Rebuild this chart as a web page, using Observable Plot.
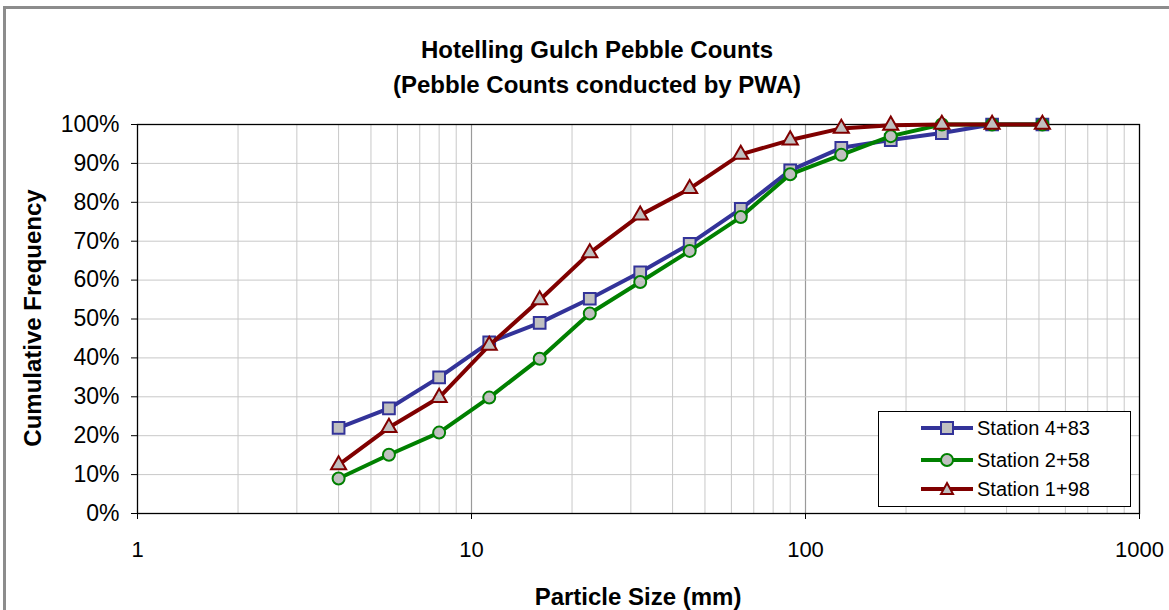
<!DOCTYPE html>
<html>
<head>
<meta charset="utf-8">
<script src="https://cdn.jsdelivr.net/npm/d3@7"></script>
<script src="https://cdn.jsdelivr.net/npm/@observablehq/plot@0.6"></script>
<style>
  html, body { margin: 0; padding: 0; background: #fff; overflow: hidden; }
  body { width: 1169px; height: 610px; position: relative; font-family: "Liberation Sans", Arial, sans-serif; }
  #frame { position: absolute; left: 3px; top: 6px; width: 1300px; height: 800px; border: 3px solid #8c8c8c; box-sizing: border-box; }
  #chart { position: absolute; left: 0; top: 0; }
  .title { position: absolute; left: 0; width: 1194px; text-align: center; font-weight: bold; font-size: 24px; color: #000; line-height: 1; }
  .axtitle { position: absolute; font-weight: bold; font-size: 24px; color: #000; line-height: 1; white-space: nowrap; }
  #legend { position: absolute; left: 878px; top: 411px; width: 253px; height: 96px; border: 1px solid #000; background: #fff; box-sizing: border-box; }
  .lrow { position: absolute; left: 42px; height: 24px; display: flex; align-items: center; font-size: 20px; }
  .lrow svg { margin-right: 4px; }
</style>
</head>
<body>
<div id="frame"></div>
<div id="chart"></div>
<div class="title" style="top:38px">Hotelling Gulch Pebble Counts</div>
<div class="title" style="top:73px">(Pebble Counts conducted by PWA)</div>
<div class="axtitle" id="ytitle" style="left:33px; top:318px; transform: translate(-50%,-50%) rotate(-90deg);">Cumulative Frequency</div>
<div class="axtitle" style="left:638px; top:585px; transform: translateX(-50%);">Particle Size (mm)</div>
<div id="legend"></div>
<script>
// ---- data ----
const sizes = [4, 5.66, 8, 11.3, 16, 22.6, 32, 45, 64, 90, 128, 180, 256, 362, 512];
const station483 = [22, 27, 35, 44, 49, 55.2, 62, 69.3, 78.3, 88.2, 94, 96, 97.8, 100, 100];
const station258 = [9, 15.1, 20.8, 29.8, 39.8, 51.4, 59.5, 67.5, 76.2, 87.2, 92.2, 97, 100, 100, 100];
const station198 = [12.5, 22.1, 29.8, 43.2, 54.9, 67, 76.7, 83.5, 92.3, 96, 99, 99.8, 100, 100, 100];
const seriesNames = ["Station 4+83", "Station 2+58", "Station 1+98"];
const xTickValues = [1, 10, 100, 1000];
const yTickValues = [0, 10, 20, 30, 40, 50, 60, 70, 80, 90, 100];

const colors = ["#333399", "#008000", "#800000"];
const symbols = ["square", "circle", "triangle"];
const markerFill = "#c0c0c0";
const markerR = [6.6, 6, 5.6];

const seriesValues = [station483, station258, station198];
const rows = seriesValues.map((vals, i) => sizes.map((s, j) => ({size: s, value: vals[j], series: seriesNames[i]})));

// minor log grid positions
const minor = [];
for (const dec of [1, 10, 100]) for (let k = 2; k <= 9; k++) minor.push(dec * k);

const marks = [
  Plot.ruleX(minor, {stroke: "#c8c8c8", strokeWidth: 1}),
  Plot.ruleX([10, 100], {stroke: "#9a9a9a", strokeWidth: 1.2}),
  Plot.ruleY(yTickValues.slice(1, -1), {stroke: "#c8c8c8", strokeWidth: 1}),
  Plot.frame({stroke: "#000", strokeWidth: 1.3}),
  Plot.axisY({ticks: yTickValues, tickFormat: d => d + "%", tickSize: 6, tickPadding: 12, fontSize: 23, label: null}),
  Plot.axisX({ticks: xTickValues, tickFormat: d => String(d), tickSize: 6, tickPadding: 22, fontSize: 22, label: null})
];
rows.forEach((data, i) => {
  marks.push(Plot.line(data, {x: "size", y: "value", stroke: colors[i], strokeWidth: 4}));
  marks.push(Plot.dot(data, {x: "size", y: "value", symbol: () => symbols[i], r: markerR[i], fill: markerFill, stroke: colors[i], strokeWidth: 2}));
});

const chart = Plot.plot({
  width: 1169,
  height: 610,
  marginLeft: 137,
  marginRight: 30,
  marginTop: 124,
  marginBottom: 97,
  style: {fontFamily: "'Liberation Sans', Arial, sans-serif", color: "#000", background: "transparent", overflow: "visible"},
  x: {type: "log", domain: [1, 1000]},
  y: {domain: [0, 100]},
  symbol: {type: "identity"},
  marks
});
document.getElementById("chart").appendChild(chart);

// legend
const legend = document.getElementById("legend");
const rowTops = [4, 36, 65];
seriesNames.forEach((name, i) => {
  const row = document.createElement("div");
  row.className = "lrow";
  row.style.top = rowTops[i] + "px";
  let marker;
  if (i === 0) marker = `<rect x="20" y="6" width="12" height="12" fill="${markerFill}" stroke="${colors[i]}" stroke-width="2"/>`;
  else if (i === 1) marker = `<circle cx="26" cy="12" r="6" fill="${markerFill}" stroke="${colors[i]}" stroke-width="2"/>`;
  else marker = `<path d="M26,6 L32,17 L20,17 Z" fill="${markerFill}" stroke="${colors[i]}" stroke-width="2"/>`;
  row.innerHTML = `<svg width="52" height="24"><line x1="0" y1="12" x2="52" y2="12" stroke="${colors[i]}" stroke-width="4"/>${marker}</svg><span>${name}</span>`;
  legend.appendChild(row);
});
</script>
</body>
</html>
